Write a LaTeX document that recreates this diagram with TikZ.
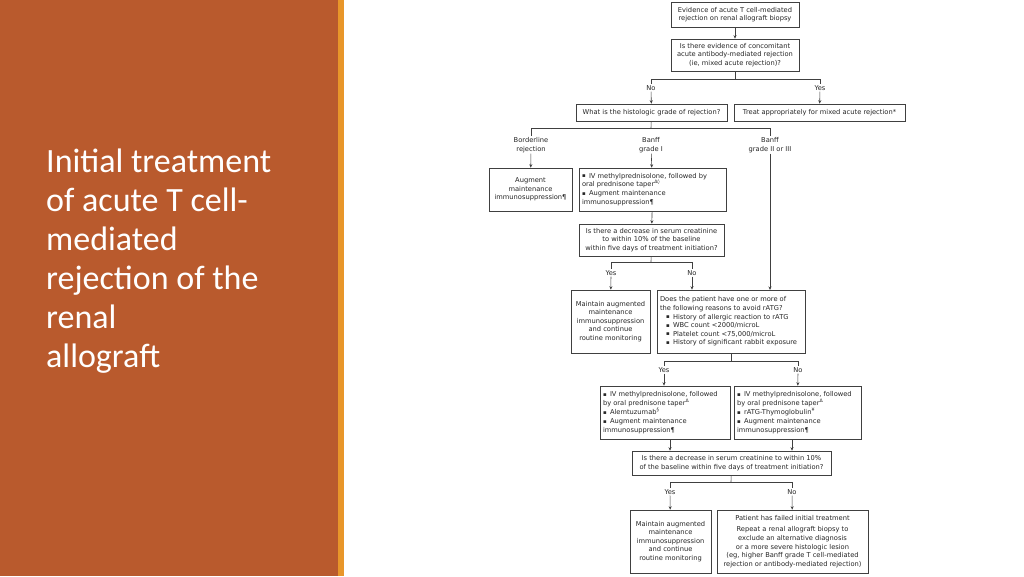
\documentclass[tikz,border=0pt]{standalone}
\usepackage{fontspec}
\setmainfont{DejaVu Sans}
\newfontfamily\titlefont{Carlito}
\usetikzlibrary{arrows.meta}
\newcommand{\bit}[1]{\par\hangindent=7pt\hangafter=1\noindent\makebox[7pt][l]{\raisebox{0.3pt}{\scalebox{0.8}{▪}}}#1}
\newenvironment{lb}[1]{\begin{minipage}{#1pt}\raggedright\fontsize{6.7}{8.6}\selectfont\parskip=0.6pt}{\end{minipage}}
\begin{document}
\begin{tikzpicture}[x=1pt,y=-1pt,
  box/.style={draw=black!75, line width=0.6pt, inner sep=1pt, align=center, font=\fontsize{6.7}{8.6}\selectfont, text=black!85},
  lbox/.style={box, inner xsep=3pt},
  lab/.style={font=\fontsize{6.7}{8.6}\selectfont, align=center, text=black!85, inner sep=1pt},
  ln/.style={draw=black!75, line width=0.6pt},
  arr/.style={ln, -{Stealth[length=3.5pt,width=3pt]}}]
\useasboundingbox (0,0) rectangle (1024,576);
\fill[white] (0,0) rectangle (1024,576);
\fill[fill={rgb,255:red,185;green,90;blue,45}] (0,0) rectangle (338,576);
\fill[fill={rgb,255:red,232;green,150;blue,42}] (338,0) rectangle (344,576);
\node[anchor=west, align=left, text=white, font=\titlefont\fontsize{34}{39}\selectfont, inner sep=0] (title) at (46,261)
 {Initial treatment\\of acute T cell-\\mediated\\rejection of the\\renal\\allograft};

\node[box, minimum width=128, minimum height=25] (b1) at (735,14.5) {Evidence of acute T cell-mediated\\rejection on renal allograft biopsy};
\node[box, minimum width=128, minimum height=32] (b2) at (735,55) {Is there evidence of concomitant\\acute antibody-mediated rejection\\(ie, mixed acute rejection)?};
\node[box, minimum width=151, minimum height=17] (b3) at (651.5,112.5) {What is the histologic grade of rejection?};
\node[box, minimum width=171, minimum height=17] (b4) at (819.5,112.5) {Treat appropriately for mixed acute rejection*};
\node[box, minimum width=83, minimum height=43] (b5) at (530.5,189.5) {Augment\\maintenance\\immunosuppression¶};
\node[lbox, minimum width=147, minimum height=43] (b6) at (652.5,189.5) {\begin{lb}{141}\bit{IV methylprednisolone, followed by\\oral prednisone taper\textsuperscript{Δ◊}}\bit{Augment maintenance\\immunosuppression¶}\end{lb}};
\node[box, minimum width=145, minimum height=32] (b7) at (651.5,240) {Is there a decrease in serum creatinine\\to within 10\% of the baseline\\within five days of treatment initiation?};
\node[box, minimum width=79, minimum height=63] (b8) at (610.5,321.5) {Maintain augmented\\maintenance\\immunosuppression\\and continue\\routine monitoring};
\node[lbox, minimum width=148, minimum height=63] (b9) at (731,321.5) {\begin{lb}{142}\parskip=0pt Does the patient have one or more of\\the following reasons to avoid rATG?\par\leftskip=6pt\bit{History of allergic reaction to rATG}\bit{WBC count <2000/microL}\bit{Platelet count <75,000/microL}\bit{History of significant rabbit exposure}\end{lb}};
\node[lbox, minimum width=130, minimum height=53] (b10) at (665,412.5) {\begin{lb}{124}\bit{IV methylprednisolone, followed\\by oral prednisone taper\textsuperscript{Δ}}\bit{Alemtuzumab\textsuperscript{§}}\bit{Augment maintenance\\immunosuppression¶}\end{lb}};
\node[lbox, minimum width=127, minimum height=53] (b11) at (797.5,412.5) {\begin{lb}{121}\bit{IV methylprednisolone, followed\\by oral prednisone taper\textsuperscript{Δ}}\bit{rATG-Thymoglobulin\textsuperscript{¥}}\bit{Augment maintenance\\immunosuppression¶}\end{lb}};
\node[box, minimum width=199, minimum height=24] (b12) at (731.5,463) {Is there a decrease in serum creatinine to within 10\%\\of the baseline within five days of treatment initiation?};
\node[box, minimum width=81, minimum height=63] (b13) at (670.5,541.5) {Maintain augmented\\maintenance\\immunosuppression\\and continue\\routine monitoring};
\node[box, minimum width=151, minimum height=63] (b14) at (792.5,541.5) {Patient has failed initial treatment\\[3pt]Repeat a renal allograft biopsy to\\exclude an alternative diagnosis\\or a more severe histologic lesion\\(eg, higher Banff grade T cell-mediated\\rejection or antibody-mediated rejection)};

% labels
\node[lab] (l1) at (651,88) {No};
\node[lab] (l2) at (820,88) {Yes};
\node[lab] (l3) at (531,145) {Borderline\\rejection};
\node[lab] (l4) at (651,145) {Banff\\grade I};
\node[lab] (l5) at (770,145) {Banff\\grade II or III};
\node[lab] (l6) at (611,273) {Yes};
\node[lab] (l7) at (692,273) {No};
\node[lab] (l8) at (664,370) {Yes};
\node[lab] (l9) at (798,370) {No};
\node[lab] (l10) at (670,492) {Yes};
\node[lab] (l11) at (792,492) {No};

\coordinate (j1) at (735,79); \coordinate (j1a) at (651,79); \coordinate (j1b) at (820,79);
\coordinate (j2) at (651,128); \coordinate (j2a) at (531,128); \coordinate (j2b) at (770,128);
\coordinate (j3) at (651,262); \coordinate (j3a) at (611,262); \coordinate (j3b) at (692,262);
\coordinate (j4) at (731,361); \coordinate (j4a) at (664,361); \coordinate (j4b) at (798,361);
\coordinate (j5) at (731,482); \coordinate (j5a) at (670,482); \coordinate (j5b) at (792,482);
\coordinate (t9) at (770,290);

\draw[arr] (b1) -- (b2);
\draw[ln] (b2) -- (j1); \draw[ln] (j1a) -- (j1b); \draw[ln] (j1a) -- (l1); \draw[ln] (j1b) -- (l2);
\draw[arr] (l1) -- (b3); \draw[arr] (l2) -- (b4);
\draw[ln] (b3) -- (j2); \draw[ln] (j2a) -- (j2b); \draw[ln] (j2a) -- (l3); \draw[ln] (j2b) -- (l5);
\draw[arr] (l3) -- (b5); \draw[arr] (l4) -- (b6); \draw[arr] (l5) -- (t9);
\draw[arr] (b6) -- (b7);
\draw[ln] (b7) -- (j3); \draw[ln] (j3a) -- (j3b); \draw[ln] (j3a) -- (l6); \draw[ln] (j3b) -- (l7);
\draw[arr] (l6) -- (b8); \draw[arr] (l7) -- (l7 |- b9.north);
\draw[ln] (b9) -- (j4); \draw[ln] (j4a) -- (j4b); \draw[ln] (j4a) -- (l8); \draw[ln] (j4b) -- (l9);
\draw[arr] (l8) -- (l8 |- b10.north); \draw[arr] (l9) -- (b11);
\draw[arr] (l10 |- b10.south) -- (l10 |- b12.north); \draw[arr] (l11 |- b11.south) -- (l11 |- b12.north);
\draw[ln] (b12) -- (j5); \draw[ln] (j5a) -- (j5b); \draw[ln] (j5a) -- (l10); \draw[ln] (j5b) -- (l11);
\draw[arr] (l10) -- (b13); \draw[arr] (l11) -- (b14);
\end{tikzpicture}
\end{document}
